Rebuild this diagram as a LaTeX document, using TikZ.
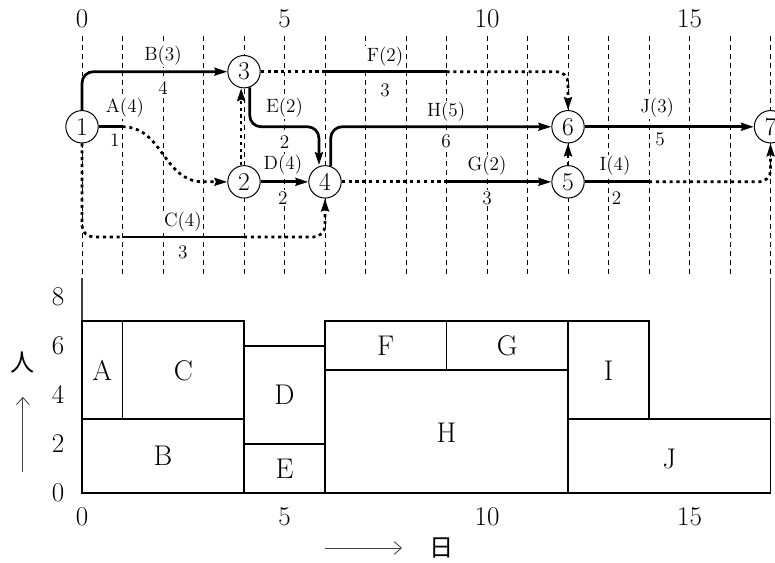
\documentclass[tikz,border=0pt]{standalone}
\usepackage{fontspec}
\usepackage{tikz}
\usetikzlibrary{arrows.meta}
\newfontfamily\jpfont{Noto Sans CJK JP}

\begin{document}
\begin{tikzpicture}[
  main node/.style={draw,circle,line width=0.7pt,minimum size=0.8cm,inner sep=0pt,fill=white,font=\fontsize{18}{20}\selectfont},
  job/.style={line width=1.9pt},
  slack/.style={line width=1.9pt,dash pattern=on 2.2pt off 2.6pt},
  tip/.style={-{Stealth[length=9pt,width=5.5pt,inset=1pt]}},
  grid line/.style={line width=0.5pt,dash pattern=on 3.5pt off 2.8pt},
  lab/.style={fill=white,inner sep=1pt,font=\fontsize{13.5}{15}\selectfont},
  num/.style={font=\fontsize{19}{22}\selectfont},
  box/.style={draw,line width=1.3pt},
  work/.style={font=\fontsize{20}{22}\selectfont},
  axis/.style={black!75,line width=0.8pt}]
\useasboundingbox (-2.025,-1.728) rectangle (17.11,12.17);

% day grid
\foreach \d in {0,...,17}
  \draw[grid line] (\d,5.41) -- (\d,11.31);
\foreach \d in {0,5,10,15} {
  \node[num] (top\d) at (\d,11.7) {\d};
  \node[num] (bot\d) at (\d,-0.6) {\d};
}

% events
\node[main node] (n1) at (0,9.04) {1};
\node[main node] (n2) at (4,7.68) {2};
\node[main node] (n3) at (4,10.4) {3};
\node[main node] (n4) at (6,7.68) {4};
\node[main node] (n5) at (12,7.68) {5};
\node[main node] (n6) at (12,9.04) {6};
\node[main node] (n7) at (17,9.04) {7};

% break points
\coordinate (a1) at (1,9.04);
\coordinate (a2) at (3,7.68);
\coordinate (c1) at (1,6.32);
\coordinate (c2) at (4,6.32);
\coordinate (e1) at (5.85,9.04);
\coordinate (f1) at (6,10.4);
\coordinate (f2) at (9,10.4);
\coordinate (g1) at (9,7.68);
\coordinate (i1) at (14,7.68);

% activities
\draw[job,tip,rounded corners=8pt] (n1) |- (n3);
\draw[job] (n1) -- (a1);
\draw[slack,tip] (a1) .. controls (2,9.04) and (2,7.68) .. (a2) -- (n2);
\draw[slack,rounded corners=8pt] (n1) |- (c1);
\draw[job] (c1) -- (c2);
\draw[slack,tip,rounded corners=8pt] (c2) -| (n4);
\draw[job,tip] (n2) -- (n4);
\draw[slack,tip] (n2.100) -- (n3.260);
\draw[job,tip,rounded corners=8pt] (n3.-70) |- (e1) -- (e1 |- n4.north);
\draw[slack] (n3) -- (f1);
\draw[job] (f1) -- (f2);
\draw[slack,tip,rounded corners=8pt] (f2) -| (n6);
\draw[job,tip,rounded corners=8pt] (n4.70) |- (n6);
\draw[slack] (n4) -- (g1);
\draw[job,tip] (g1) -- (n5);
\draw[slack,tip] (n5) -- (n6);
\draw[job] (n5) -- (i1);
\draw[slack,tip,rounded corners=8pt] (i1) -| (n7);
\draw[job,tip] (n6) -- (n7);

% names (workers) and days
\node[lab] (lA) at (1.06,9.51) {A(4)};
\node[lab] (dA) at (0.81,8.72) {1};
\node[lab] (lB) at (2,10.8) {B(3)};
\node[lab] (dB) at (2,9.99) {4};
\node[lab] (lC) at (2.49,6.69) {C(4)};
\node[lab] (dC) at (2.49,5.95) {3};
\node[lab] (lD) at (4.96,8.1) {D(4)};
\node[lab] (dD) at (4.96,7.28) {2};
\node[lab] (lE) at (5,9.51) {E(2)};
\node[lab] (dE) at (5,8.67) {2};
\node[lab] (lF) at (7.48,10.77) {F(2)};
\node[lab] (dF) at (7.48,9.95) {3};
\node[lab] (lG) at (10,8.07) {G(2)};
\node[lab] (dG) at (10,7.28) {3};
\node[lab] (lH) at (8.99,9.4) {H(5)};
\node[lab] (dH) at (8.99,8.67) {6};
\node[lab] (lI) at (13.16,8.07) {I(4)};
\node[lab] (dI) at (13.2,7.28) {2};
\node[lab] (lJ) at (14.2,9.51) {J(3)};
\node[lab] (dJ) at (14.27,8.72) {5};

% workers per day
\begin{scope}[y=0.605cm]
\draw[axis] (0,8.78) -- (0,0);
\draw[axis] (17,8.78) -- (17,0);
\draw[box] (0,3) rectangle (1,7);   \node[work] (wA) at (0.5,5) {A};
\draw[box] (1,3) rectangle (4,7);   \node[work] (wC) at (2.5,5) {C};
\draw[box] (0,0) rectangle (4,3);   \node[work] (wB) at (2,1.5) {B};
\draw[box] (4,2) rectangle (6,6);   \node[work] (wD) at (5,4) {D};
\draw[box] (4,0) rectangle (6,2);   \node[work] (wE) at (5,1) {E};
\draw[box] (6,5) rectangle (9,7);   \node[work] (wF) at (7.5,6) {F};
\draw[box] (9,5) rectangle (12,7);  \node[work] (wG) at (10.5,6) {G};
\draw[box] (6,0) rectangle (12,5);  \node[work] (wH) at (9,2.45) {H};
\draw[box] (12,3) rectangle (14,7); \node[work] (wI) at (13,5) {I};
\draw[box] (12,0) rectangle (17,3); \node[work] (wJ) at (14.5,1.4) {J};
\foreach \p in {0,2,4,6,8}
  \node[num] (left\p) at (-0.59,\p) {\p};
\end{scope}

% axis titles
\coordinate (up0) at (-1.46,0.52);
\coordinate (up1) at (-1.46,2.37);
\draw[axis,line width=0.6pt,-{Straight Barb[length=5pt,width=9pt]}] (up0) -- (up1);
\node[font=\jpfont\fontsize{17}{19}\selectfont] (ren) at (-1.46,3.21) {人};
\coordinate (right0) at (6,-1.36);
\coordinate (right1) at (7.9,-1.36);
\draw[axis,line width=0.6pt,-{Straight Barb[length=5pt,width=9pt]}] (right0) -- (right1);
\node[font=\jpfont\fontsize{17}{19}\selectfont] (hi) at (8.89,-1.36) {日};
\end{tikzpicture}
\end{document}
